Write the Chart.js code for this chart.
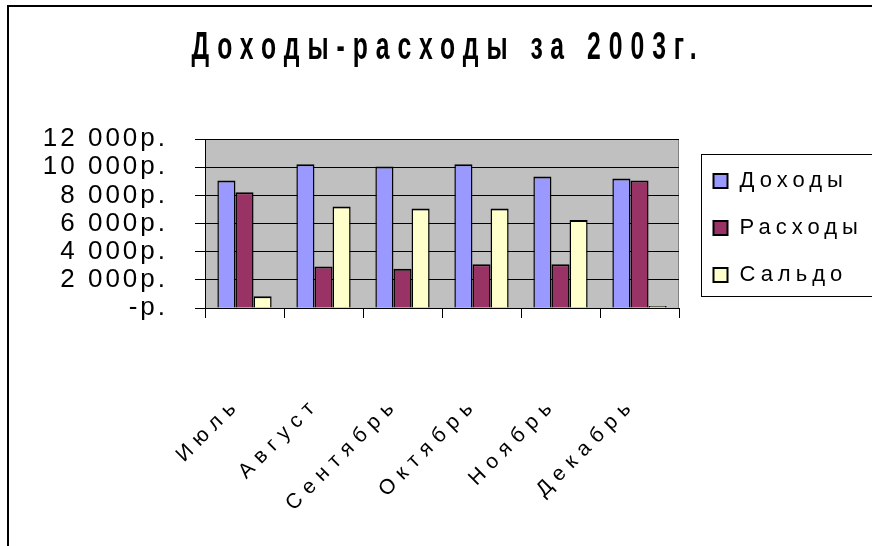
<!DOCTYPE html>
<html><head><meta charset="utf-8">
<script src="https://cdn.jsdelivr.net/npm/chart.js@4/dist/chart.umd.min.js"></script>
<style>html,body{margin:0;padding:0;background:#fff;overflow:hidden;} canvas{display:block;}</style>
</head><body>
<canvas id="c" width="872" height="546"></canvas>
<script>
// ---- data ----
const chartTitle = 'Доходы-расходы за 2003г.';
const months = ['Июль', 'Август', 'Сентябрь', 'Октябрь', 'Ноябрь', 'Декабрь'];
const seriesNames = ['Доходы', 'Расходы', 'Сальдо'];
const income   = [9050, 10200, 10040, 10200, 9330, 9190];
const expenses = [8220, 2950, 2790, 3100, 3100, 9050];
const balance  = [830, 7200, 7060, 7060, 6240, 140];
const yTickValues = [0, 2000, 4000, 6000, 8000, 10000, 12000];
const yTickLabels = ['-р.', '2 000р.', '4 000р.', '6 000р.', '8 000р.', '10 000р.', '12 000р.'];

// ---- styles ----
const seriesColors = ['#9999FF', '#993366', '#FFFFCC'];
const FONT = "'Liberation Sans', Arial, sans-serif";

function wrapSpacing(obj, method, ctx, spacing, scaleX) {
  if (!obj || obj['__sp_' + method]) return;
  const orig = obj[method];
  obj[method] = function () {
    ctx.save();
    if (scaleX) {
      const cx = (this.left + this.right) / 2;
      ctx.translate(cx, 0); ctx.scale(scaleX, 1); ctx.translate(-cx, 0);
    }
    ctx.letterSpacing = spacing;
    try { return orig.apply(this, arguments); } finally { ctx.restore(); }
  };
  obj['__sp_' + method] = true;
}

const spacingPlugin = {
  id: 'spacing',
  afterLayout(chart) {
    const ctx = chart.ctx;
    wrapSpacing(chart.titleBlock, 'draw', ctx, '12.3px', 0.65);
    wrapSpacing(chart.scales.y, 'drawLabels', ctx, '3px');
    wrapSpacing(chart.scales.x, 'drawLabels', ctx, '7px');
  }
};

const framePlugin = {
  id: 'frame',
  beforeDraw(chart) {
    const ctx = chart.ctx, a = chart.chartArea;
    ctx.save();
    ctx.fillStyle = '#fff';
    ctx.fillRect(0, 0, chart.width, chart.height);
    ctx.strokeStyle = '#000';
    ctx.lineWidth = 2;
    ctx.strokeRect(8, 6, chart.width + 20, chart.height + 20);
    ctx.fillStyle = '#C0C0C0';
    ctx.fillRect(a.left, a.top, a.right - a.left, a.bottom - a.top);
    ctx.strokeStyle = '#808080';
    ctx.lineWidth = 1;
    ctx.strokeRect(a.left + 0.5, a.top + 0.5, a.right - a.left - 1, a.bottom - a.top);
    ctx.restore();
  },
  afterDraw(chart) {
    const ctx = chart.ctx, a = chart.chartArea;
    const boxLeft = a.right + 22.5, boxTop = 154.5, boxBottom = 296.5;
    ctx.save();
    ctx.strokeStyle = '#000';
    ctx.lineWidth = 1;
    ctx.strokeRect(boxLeft, boxTop, 300, boxBottom - boxTop);
    ctx.font = '22px ' + FONT;
    ctx.textBaseline = 'middle';
    ctx.textAlign = 'left';
    ctx.letterSpacing = '5px';
    chart.data.datasets.forEach((ds, i) => {
      const y = 181 + i * 47;
      ctx.fillStyle = ds.backgroundColor;
      ctx.fillRect(boxLeft + 12, y - 7, 14, 14);
      ctx.lineWidth = 2;
      ctx.strokeStyle = '#000';
      ctx.strokeRect(boxLeft + 12, y - 7, 14, 14);
      ctx.fillStyle = '#000';
      ctx.fillText(ds.label, boxLeft + 38, y);
    });
    ctx.restore();
  }
};

const datasets = [income, expenses, balance].map((vals, i) => ({
  label: seriesNames[i],
  data: vals,
  backgroundColor: seriesColors[i],
  borderColor: '#000',
  borderWidth: { top: 2, left: 1.5, right: 1.5, bottom: 0 },
  borderSkipped: 'start',
  categoryPercentage: 0.687,
  barPercentage: 1.0
}));

new Chart(document.getElementById('c'), {
  type: 'bar',
  data: { labels: months, datasets },
  options: {
    responsive: false,
    devicePixelRatio: 1,
    animation: false,
    layout: { padding: { left: 24, right: 0, top: 0, bottom: 0 } },
    plugins: {
      legend: { display: false },
      tooltip: { enabled: false },
      title: {
        display: true,
        text: chartTitle,
        color: '#000',
        font: { family: FONT, size: 38, weight: 'bold', lineHeight: 1 },
        padding: { top: 30, bottom: 71 }
      }
    },
    scales: {
      x: {
        offset: true,
        grid: { display: true, drawOnChartArea: false, drawTicks: true, tickLength: 10, color: '#000', offset: true },
        border: { display: true, color: '#000', width: 1 },
        ticks: {
          autoSkip: false, minRotation: 45, maxRotation: 45,
          padding: 74, labelOffset: -7, color: '#000',
          font: { family: FONT, size: 21 }
        },
        afterFit(s) { s.height = 238; }
      },
      y: {
        min: 0, max: 12000,
        afterBuildTicks(s) { s.ticks = yTickValues.map(v => ({ value: v })); },
        grid: { color: '#000', lineWidth: 1, tickLength: 10, drawTicks: true },
        border: { display: true, color: '#000', width: 1 },
        ticks: {
          autoSkip: false,
          padding: 27, color: '#000',
          font: { family: FONT, size: 26 },
          callback(v) { const i = yTickValues.indexOf(v); return i >= 0 ? yTickLabels[i] : ''; }
        },
        afterFit(s) { s.width = 181; }
      },
      yR: {
        position: 'right', min: 0, max: 1,
        grid: { display: false }, border: { display: false }, ticks: { display: false },
        afterFit(s) { s.width = 193; }
      }
    }
  },
  plugins: [spacingPlugin, framePlugin]
});
</script>
</body></html>
